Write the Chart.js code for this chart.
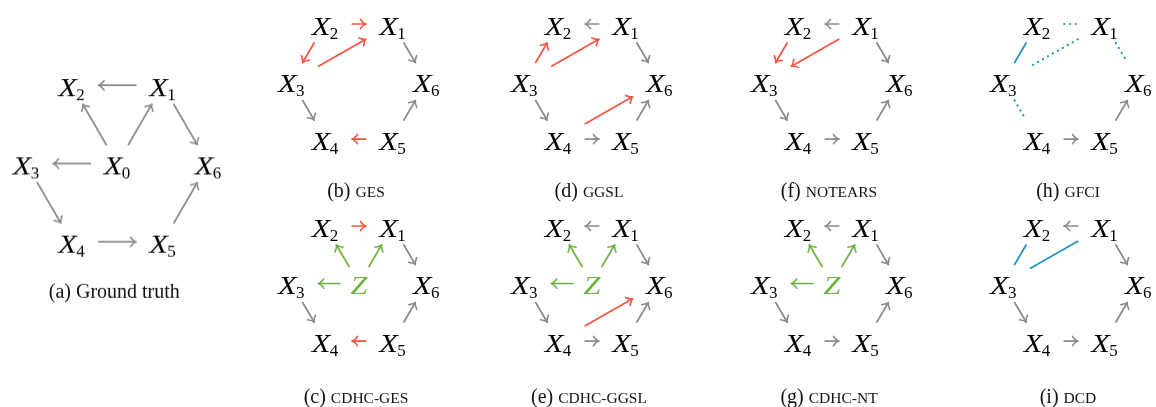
<!DOCTYPE html>
<html>
<head>
<meta charset="utf-8">
<script src="https://cdn.jsdelivr.net/npm/chart.js@4.4.1/dist/chart.umd.min.js"></script>
<style>
  body { margin: 0; background: #fff; width: 1156px; height: 407px; overflow: hidden; position: relative; }
  .panel { position: absolute; }
</style>
</head>
<body>
<div id="panels"></div>
<script>
// Node layout of the hexagon (unit coordinates), X0 / Z sits in the middle
const nodeNames = ['X0', 'X1', 'X2', 'X3', 'X4', 'X5', 'X6'];
const nodeX = [0, 0.5, -0.5, -1, -0.5, 0.5, 1];
const nodeY = [0, 1, 1, 0, -1, -1, 0];

// Panels
const panelIds = ['a', 'b', 'c', 'd', 'e', 'f', 'g', 'h', 'i'];
const captionTags = ['(a)', '(b)', '(c)', '(d)', '(e)', '(f)', '(g)', '(h)', '(i)'];
const captionNames = ['Ground truth', 'GES', 'CDHC-GES', 'GGSL', 'CDHC-GGSL', 'NOTEARS', 'CDHC-NT', 'GFCI', 'DCD'];
const centerLabels = ['X0', null, 'Z', null, 'Z', null, 'Z', null, null];

// Edges: [from, to, kind]  g = grey arrow, r = red arrow, z = latent (green) arrow,
// u = undirected (blue), d = dotted undirected (blue)
const edgesA = [['X1', 'X2', 'g'], ['X0', 'X2', 'g'], ['X0', 'X1', 'g'], ['X0', 'X3', 'g'], ['X1', 'X6', 'g'], ['X3', 'X4', 'g'], ['X4', 'X5', 'g'], ['X5', 'X6', 'g']];
const edgesB = [['X2', 'X1', 'r'], ['X2', 'X3', 'r'], ['X3', 'X1', 'r'], ['X1', 'X6', 'g'], ['X3', 'X4', 'g'], ['X5', 'X6', 'g'], ['X5', 'X4', 'r']];
const edgesC = [['X2', 'X1', 'r'], ['X0', 'X2', 'z'], ['X0', 'X1', 'z'], ['X0', 'X3', 'z'], ['X1', 'X6', 'g'], ['X3', 'X4', 'g'], ['X5', 'X6', 'g'], ['X5', 'X4', 'r']];
const edgesD = [['X1', 'X2', 'g'], ['X3', 'X2', 'r'], ['X3', 'X1', 'r'], ['X1', 'X6', 'g'], ['X3', 'X4', 'g'], ['X4', 'X5', 'g'], ['X5', 'X6', 'g'], ['X4', 'X6', 'r']];
const edgesE = [['X1', 'X2', 'g'], ['X0', 'X2', 'z'], ['X0', 'X1', 'z'], ['X0', 'X3', 'z'], ['X1', 'X6', 'g'], ['X3', 'X4', 'g'], ['X4', 'X5', 'g'], ['X5', 'X6', 'g'], ['X4', 'X6', 'r']];
const edgesF = [['X1', 'X2', 'g'], ['X2', 'X3', 'r'], ['X1', 'X3', 'r'], ['X1', 'X6', 'g'], ['X3', 'X4', 'g'], ['X4', 'X5', 'g'], ['X5', 'X6', 'g']];
const edgesG = [['X1', 'X2', 'g'], ['X0', 'X2', 'z'], ['X0', 'X1', 'z'], ['X0', 'X3', 'z'], ['X1', 'X6', 'g'], ['X3', 'X4', 'g'], ['X4', 'X5', 'g'], ['X5', 'X6', 'g']];
const edgesH = [['X2', 'X1', 'd'], ['X2', 'X3', 'u'], ['X1', 'X3', 'd'], ['X1', 'X6', 'd'], ['X3', 'X4', 'd'], ['X4', 'X5', 'g'], ['X5', 'X6', 'g']];
const edgesI = [['X1', 'X2', 'g'], ['X2', 'X3', 'u'], ['X1', 'X3', 'u'], ['X1', 'X6', 'g'], ['X3', 'X4', 'g'], ['X4', 'X5', 'g'], ['X5', 'X6', 'g']];
const panelEdges = [edgesA, edgesB, edgesC, edgesD, edgesE, edgesF, edgesG, edgesH, edgesI];

// Styles
const edgeColors = { g: '#8a8a8a', r: '#fa5242', z: '#6db33f', u: '#2092c2', d: '#2092c2' };
const labelFont = '"Liberation Serif", "Times New Roman", serif';
const STRETCH = 1.22;

// Pixel layout of each panel: centre, unit sizes, visible data range, caption level
const small = { ux: 67.5, uy: 57.5, xmin: -1.6, xmax: 1.6, ymin: -2.5, ymax: 1.4 };
const layout = {
  a: { cx: 117, cy: 163.5, ux: 91, uy: 78, xmin: -1.3, xmax: 1.3, ymin: -2.2, ymax: 1.4, capY: -1.71 },
  b: Object.assign({ cx: 358.5, cy: 81.5, capY: -2.01 }, small),
  c: Object.assign({ cx: 358.5, cy: 283.5, capY: -2.07 }, small),
  d: Object.assign({ cx: 591.5, cy: 81.5, capY: -2.01 }, small),
  e: Object.assign({ cx: 591.5, cy: 283.5, capY: -2.07 }, small),
  f: Object.assign({ cx: 831.5, cy: 81.5, capY: -2.01 }, small),
  g: Object.assign({ cx: 831.5, cy: 283.5, capY: -2.07 }, small),
  h: Object.assign({ cx: 1071, cy: 81.5, capY: -2.01 }, small),
  i: Object.assign({ cx: 1071, cy: 283.5, capY: -2.07 }, small)
};

function drawLabel(ctx, name, x, y, color) {
  const main = name[0];
  const sub = name.slice(1);
  ctx.save();
  ctx.fillStyle = color;
  ctx.textBaseline = 'alphabetic';
  ctx.font = 'italic 25px ' + labelFont;
  const mw = ctx.measureText(main).width * STRETCH;
  ctx.font = '17px ' + labelFont;
  const sw = sub ? ctx.measureText(sub).width : 0;
  const left = x - (mw + sw) / 2;
  const base = y + 2.5 + 8.2;
  ctx.save();
  ctx.translate(left, base);
  ctx.scale(STRETCH, 1);
  ctx.font = 'italic 25px ' + labelFont;
  ctx.fillText(main, 0, 0);
  ctx.restore();
  if (sub) {
    ctx.font = '17px ' + labelFont;
    ctx.fillText(sub, left + mw - 0.5, base + 4);
  }
  ctx.restore();
}

function clipDist(ux, uy, w, h) {
  const tx = Math.abs(ux) > 1e-6 ? w / Math.abs(ux) : Infinity;
  const ty = Math.abs(uy) > 1e-6 ? h / Math.abs(uy) : Infinity;
  return Math.min(tx, ty);
}

function drawEdge(ctx, p, q, kind, fromCenter, toCenter) {
  const dx = q.x - p.x, dy = q.y - p.y;
  const len = Math.hypot(dx, dy);
  const ux = dx / len, uy = dy / len;
  const t0 = fromCenter === 'Z' ? clipDist(ux, uy, 19, 17) : clipDist(ux, uy, 27, 19);
  const t1 = toCenter === 'Z' ? clipDist(ux, uy, 19, 17) : clipDist(ux, uy, 27, 19);
  const sx = p.x + ux * t0, sy = p.y + uy * t0;
  const ex = q.x - ux * t1, ey = q.y - uy * t1;
  ctx.save();
  ctx.strokeStyle = edgeColors[kind];
  ctx.lineCap = 'round';
  if (kind === 'd') {
    ctx.lineWidth = 2.2;
    ctx.setLineDash([0.1, 5.6]);
  } else {
    ctx.lineWidth = 1.7;
  }
  ctx.beginPath();
  ctx.moveTo(sx, sy);
  ctx.lineTo(ex, ey);
  ctx.stroke();
  ctx.setLineDash([]);
  if (kind === 'g' || kind === 'r' || kind === 'z') {
    const ang = Math.atan2(uy, ux);
    const bl = 7, spread = 0.72;
    ctx.lineWidth = 1.6;
    ctx.lineJoin = 'round';
    ctx.beginPath();
    ctx.moveTo(ex - bl * Math.cos(ang - spread), ey - bl * Math.sin(ang - spread));
    ctx.quadraticCurveTo(ex - 2 * Math.cos(ang - 0.25), ey - 2 * Math.sin(ang - 0.25), ex, ey);
    ctx.quadraticCurveTo(ex - 2 * Math.cos(ang + 0.25), ey - 2 * Math.sin(ang + 0.25),
      ex - bl * Math.cos(ang + spread), ey - bl * Math.sin(ang + spread));
    ctx.stroke();
  }
  ctx.restore();
}

const graphPlugin = {
  id: 'graph',
  afterDatasetsDraw(chart, args, opts) {
    const ctx = chart.ctx;
    const meta = chart.getDatasetMeta(0);
    const names = chart.data.datasets[0].names;
    const pos = {};
    meta.data.forEach((pt, i) => { pos[names[i]] = { x: pt.x, y: pt.y }; });

    opts.edges.forEach(([a, b, kind]) => {
      drawEdge(ctx, pos[a], pos[b], kind,
        a === 'X0' ? opts.center : null, b === 'X0' ? opts.center : null);
    });

    names.forEach(n => {
      if (n === 'X0') {
        if (opts.center === 'Z') drawLabel(ctx, 'Z', pos[n].x, pos[n].y, edgeColors.z);
        else drawLabel(ctx, 'X0', pos[n].x, pos[n].y, '#000');
      } else {
        drawLabel(ctx, n, pos[n].x, pos[n].y, '#000');
      }
    });

    // Caption
    const xs = chart.scales.x, ys = chart.scales.y;
    const cx = xs.getPixelForValue(0) - 3;
    const cy = ys.getPixelForValue(opts.capY);
    ctx.save();
    ctx.fillStyle = '#111';
    ctx.textBaseline = 'alphabetic';
    const tagFont = '20px ' + labelFont;
    const nameFont = opts.smallCaps ? '15.5px ' + labelFont : '20px ' + labelFont;
    ctx.font = tagFont;
    const tw = ctx.measureText(opts.tag + ' ').width;
    ctx.font = nameFont;
    const nw = ctx.measureText(opts.name).width;
    const left = cx - (tw + nw) / 2;
    ctx.font = tagFont;
    ctx.fillText(opts.tag + ' ', left, cy);
    ctx.font = nameFont;
    ctx.fillText(opts.name, left + tw, cy);
    ctx.restore();
  }
};

const container = document.getElementById('panels');
panelIds.forEach((id, k) => {
  const L = layout[id];
  const div = document.createElement('div');
  div.className = 'panel';
  div.style.left = (L.cx + L.xmin * L.ux) + 'px';
  div.style.top = (L.cy - L.ymax * L.uy) + 'px';
  div.style.width = ((L.xmax - L.xmin) * L.ux) + 'px';
  div.style.height = ((L.ymax - L.ymin) * L.uy) + 'px';
  const canvas = document.createElement('canvas');
  div.appendChild(canvas);
  container.appendChild(div);

  const used = nodeNames.filter(n => n !== 'X0' || centerLabels[k]);
  const data = used.map(n => ({ x: nodeX[nodeNames.indexOf(n)], y: nodeY[nodeNames.indexOf(n)] }));

  new Chart(canvas.getContext('2d'), {
    type: 'scatter',
    data: { datasets: [{ data: data, names: used, pointRadius: 0, pointHoverRadius: 0 }] },
    options: {
      responsive: true,
      maintainAspectRatio: false,
      animation: false,
      events: [],
      layout: { padding: 0 },
      scales: {
        x: { display: false, min: L.xmin, max: L.xmax },
        y: { display: false, min: L.ymin, max: L.ymax }
      },
      plugins: {
        legend: { display: false },
        tooltip: { enabled: false },
        graph: {
          edges: panelEdges[k],
          center: centerLabels[k],
          tag: captionTags[k],
          name: captionNames[k],
          smallCaps: k > 0,
          capY: L.capY
        }
      }
    },
    plugins: [graphPlugin]
  });
});
</script>
</body>
</html>
